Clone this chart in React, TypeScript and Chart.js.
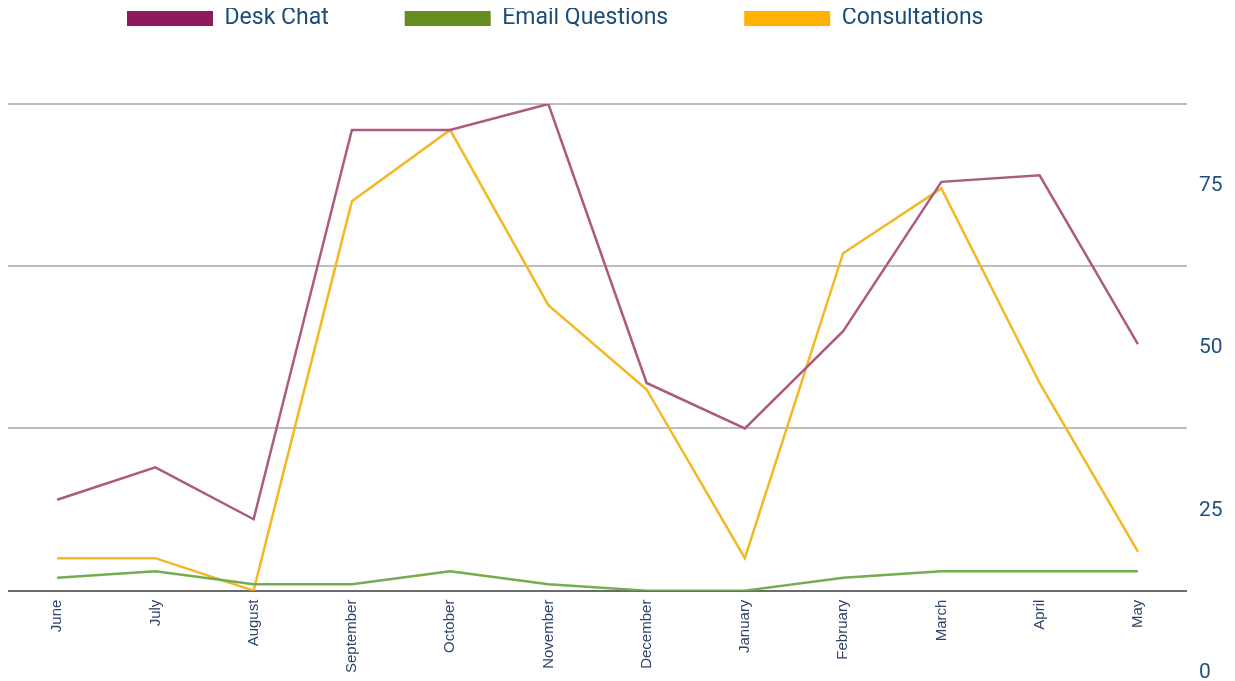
import React, { useEffect, useRef } from "react";
import { Chart, registerables } from "chart.js";

Chart.register(...registerables);

const months = ["June", "July", "August", "September", "October", "November", "December", "January", "February", "March", "April", "May"];
const deskChat = [14, 19, 11, 71, 71, 75, 32, 25, 40, 63, 64, 38];
const emailQuestions = [2, 3, 1, 1, 3, 1, 0, 0, 2, 3, 3, 3];
const consultations = [5, 5, 0, 60, 71, 44, 31, 5, 52, 62, 32, 6];

const seriesNames = ["Desk Chat", "Email Questions", "Consultations"];
const legendColors = ["#8c1a5c", "#648c1e", "#ffb300"];
const lineColors = ["#ad5a83", "#72ad4f", "#f3b823"];

const Y_MIN = 0;
const Y_MAX = 75;
const Y_STEP = 25;

const LEGEND_BLOCK = 96;
const LEGEND_PAD = 76;
const LEGEND_LEFT = 43;
const LEGEND_TOP = -77;

const legendPlacer = {
  id: "legendPlacer",
  beforeInit(chart: any) {
    const legend = chart.legend;
    if (!legend) return;
    const origFit = legend.fit;
    legend.fit = function () {
      origFit.call(this);
      this.height = LEGEND_BLOCK;
    };
  },
  afterLayout(chart: any) {
    const l = chart.legend;
    if (!l) return;
    const h = l.bottom - l.top;
    l.left = LEGEND_LEFT;
    l.top = LEGEND_TOP;
    l.bottom = LEGEND_TOP + h;
  },
};

export default function App() {
  const ref = useRef<HTMLCanvasElement | null>(null);

  useEffect(() => {
    if (!ref.current) return;
    const series = [deskChat, emailQuestions, consultations];
    const chart = new Chart(ref.current, {
      type: "line",
      data: {
        labels: months,
        datasets: series.map((d, i) => ({
          label: seriesNames[i],
          data: d,
          borderColor: lineColors[i],
          backgroundColor: legendColors[i],
          borderWidth: 2.5,
          pointRadius: 0,
          tension: 0,
          fill: false,
        })),
      },
      options: {
        animation: false,
        responsive: true,
        maintainAspectRatio: false,
        layout: { padding: { left: 0, right: 0, top: 0, bottom: 7 } },
        plugins: {
          legend: {
            display: true,
            position: "top",
            align: "start",
            labels: {
              boxWidth: 86,
              boxHeight: 15,
              padding: LEGEND_PAD,
              color: "#1b4d77",
              font: { family: "Roboto", size: 23 },
              generateLabels: (chart: any) =>
                chart.data.datasets.map((ds: any, i: number) => ({
                  text: ds.label,
                  fillStyle: legendColors[i],
                  strokeStyle: legendColors[i],
                  lineWidth: 0,
                  hidden: false,
                  datasetIndex: i,
                  fontColor: "#1b4d77",
                })),
            },
          },
          tooltip: { enabled: false },
        },
        scales: {
          x: {
            offset: true,
            grid: { display: false },
            border: { display: false },
            ticks: {
              autoSkip: false,
              minRotation: 90,
              maxRotation: 90,
              padding: 1,
              color: "#2e4468",
              font: { family: "Liberation Sans", size: 15 },
            },
          },
          y: {
            position: "right",
            min: Y_MIN,
            max: Y_MAX,
            border: { display: false },
            afterFit: (scale: any) => {
              scale.width = 40;
            },
            grid: {
              drawTicks: false,
              lineWidth: 2,
              color: (ctx: any) => (ctx.tick && ctx.tick.value === 0 ? "#6b6b6b" : "#bdbdbd"),
            },
            ticks: {
              stepSize: Y_STEP,
              padding: 12,
              labelOffset: 82,
              color: "#1f5282",
              font: { family: "Roboto", size: 21 },
            },
          },
        },
      },
      plugins: [legendPlacer],
    });
    return () => chart.destroy();
  }, []);

  return (
    <div style={{ position: "absolute", left: 8, top: 8, width: 1219, height: 673 }}>
      <canvas ref={ref} />
    </div>
  );
}
